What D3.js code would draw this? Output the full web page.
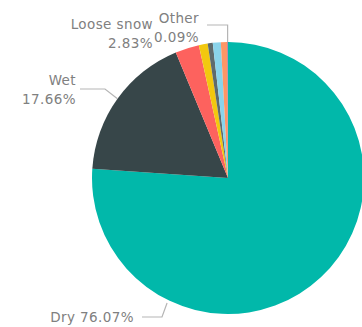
<!DOCTYPE html>
<html>
<head>
<meta charset="utf-8">
<script src="https://cdn.jsdelivr.net/npm/d3@7/dist/d3.min.js"></script>
<style>
  html, body { margin: 0; padding: 0; background: #fff; }
  svg { display: block; }
  .lbl { font-family: "DejaVu Sans", sans-serif; font-size: 13.5px; letter-spacing: 0.4px; fill: #808080; }
</style>
</head>
<body>
<svg id="chart" width="362" height="327"></svg>
<script>
// Avalanche share by snow type (%)
const categories = ["Dry", "Wet", "Loose snow", "Slab", "Glide", "Cornice", "Ice", "Other"];
const shares = [76.07, 17.66, 2.83, 1.05, 0.60, 0.95, 0.75, 0.09];
const colors = ["#01B8AA", "#374649", "#FD625E", "#F2C80F", "#5F6B6D", "#8AD4EB", "#FE9666", "#A66999"];

const svg = d3.select("#chart");
const cx = 228, cy = 178, R = 136;

const data = categories.map((c, i) => ({ name: c, value: shares[i], color: colors[i] }));
const pie = d3.pie().value(d => d.value).sort(null);
const arcs = pie(data);
const arc = d3.arc().innerRadius(0).outerRadius(R);

const g = svg.append("g").attr("transform", `translate(${cx},${cy})`);
g.selectAll("path")
  .data(arcs)
  .join("path")
  .attr("d", arc)
  .attr("fill", d => d.data.color);

const fmt = v => d3.format(".2f")(v) + "%";
const onRim = (a, r) => [cx + r * Math.sin(a), cy - r * Math.cos(a)];
const byName = n => arcs.find(a => a.data.name === n);
const mid = a => (a.startAngle + a.endAngle) / 2;

// Leader lines
const lines = svg.append("g").attr("fill", "none").attr("stroke", "#b5b5b5").attr("stroke-width", 1.2);

// Wet: from slice middle out to an elbow, then horizontal
{
  const a = byName("Wet");
  const p = onRim(mid(a), R);
  lines.append("polyline").attr("points", [p, [105, 89], [80, 89]].map(q => q.join(",")).join(" "));
}
// Dry: from the lower-left rim to an elbow, then horizontal
{
  const p = onRim(206 * Math.PI / 180, R + 3);
  lines.append("polyline").attr("points", [p, [162, 317], [142, 317]].map(q => q.join(",")).join(" "));
}
// Other: straight up from the rim, then left
{
  const a = byName("Other");
  const p = onRim(mid(a), R);
  lines.append("polyline").attr("points", [p, [p[0], 25], [207, 25]].map(q => q.join(",")).join(" "));
}

// Labels
const labels = svg.append("g").attr("class", "lbl");
function twoLine(name, x, y1, y2, anchor) {
  const a = byName(name);
  labels.append("text").attr("x", x).attr("y", y1).attr("text-anchor", anchor).text(name);
  labels.append("text").attr("x", x).attr("y", y2).attr("text-anchor", anchor).text(fmt(a.data.value));
}
twoLine("Wet", 76, 85, 104, "end");
twoLine("Loose snow", 153, 29, 48, "end");
twoLine("Other", 199, 23, 42, "end");
{
  const a = byName("Dry");
  labels.append("text").attr("x", 134).attr("y", 322).attr("text-anchor", "end")
    .text(a.data.name + " " + fmt(a.data.value));
}
</script>
</body>
</html>
